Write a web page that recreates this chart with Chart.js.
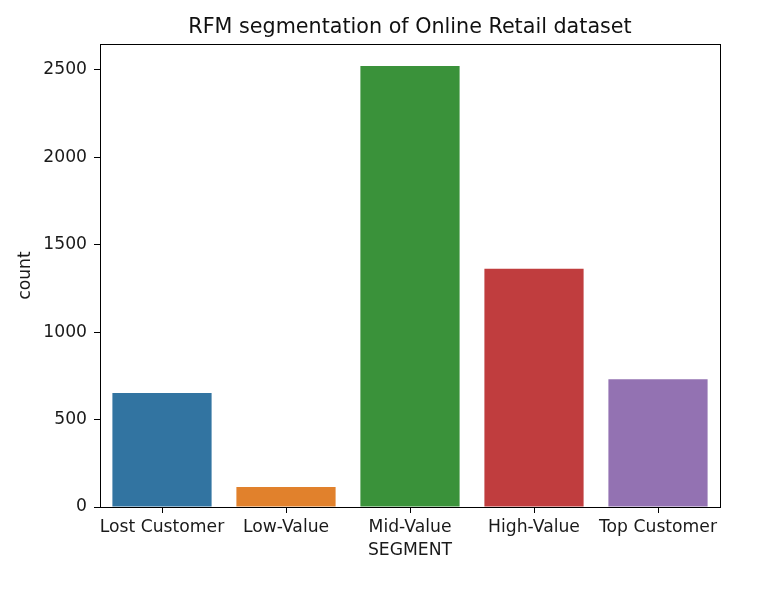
<!DOCTYPE html>
<html><head><meta charset="utf-8">
<script src="https://cdn.jsdelivr.net/npm/chart.js@4/dist/chart.umd.min.js"></script>
<style>html,body{margin:0;padding:0;background:#fff}#wrap{width:782px;height:595px}</style>
</head><body><div id="wrap"><canvas id="c" width="782" height="595"></canvas></div>
<script>
const categories = ["Lost Customer", "Low-Value", "Mid-Value", "High-Value", "Top Customer"];
const counts = [652, 114, 2521, 1362, 731];
const barColors = ["#3274a1", "#e1812c", "#3a923a", "#c03d3e", "#9372b2"];
const yTicks = [0, 500, 1000, 1500, 2000, 2500];

const frame = {
  id: 'frame',
  afterDatasetsDraw(chart) {
    const a = chart.chartArea, ctx = chart.ctx;
    ctx.save();
    ctx.strokeStyle = '#000';
    ctx.lineWidth = 1;
    ctx.strokeRect(Math.round(a.left) + 0.5, Math.round(a.top) + 0.5, Math.round(a.right - a.left), Math.round(a.bottom - a.top));
    ctx.restore();
  }
};

Chart.defaults.font.family = "'DejaVu Sans', sans-serif";
Chart.defaults.color = '#1a1a1a';

new Chart(document.getElementById('c'), {
  type: 'bar',
  data: {
    labels: categories,
    datasets: [{
      data: counts,
      backgroundColor: barColors,
      borderWidth: 0,
      categoryPercentage: 1.0,
      barPercentage: 0.8
    }]
  },
  options: {
    responsive: false,
    animation: false,
    devicePixelRatio: 1,
    layout: { padding: { left: 0, right: 62, top: 0, bottom: 0 } },
    plugins: {
      legend: { display: false },
      tooltip: { enabled: false },
      title: {
        display: true,
        fullSize: false,
        text: 'RFM segmentation of Online Retail dataset',
        font: { size: 20.7, weight: 'normal' },
        color: '#111',
        padding: { top: 15.3, bottom: 3.86 }
      }
    },
    scales: {
      x: {
        grid: { display: true, drawOnChartArea: false, tickLength: 6, color: '#000', offset: false },
        border: { display: true, color: '#000' },
        ticks: { font: { size: 17.2 }, padding: 4, maxRotation: 0, autoSkip: false },
        title: { display: true, text: 'SEGMENT', font: { size: 17.2 }, padding: { top: 2, bottom: 33.8 } },
        afterFit(scale) { scale.height = 88; }
      },
      y: {
        min: 0,
        max: 2647,
        afterBuildTicks(scale) { scale.ticks = yTicks.map(v => ({ value: v })); },
        grid: { display: true, drawOnChartArea: false, tickLength: 6, color: '#000' },
        border: { display: true, color: '#000' },
        ticks: { font: { size: 17.2 }, padding: 7, callback: v => String(v) },
        title: { display: true, text: 'count', font: { size: 17.2 }, padding: { top: 14.8, bottom: 0 } },
        afterFit(scale) { scale.width = 100; }
      }
    }
  },
  plugins: [frame]
});
</script></body></html>
